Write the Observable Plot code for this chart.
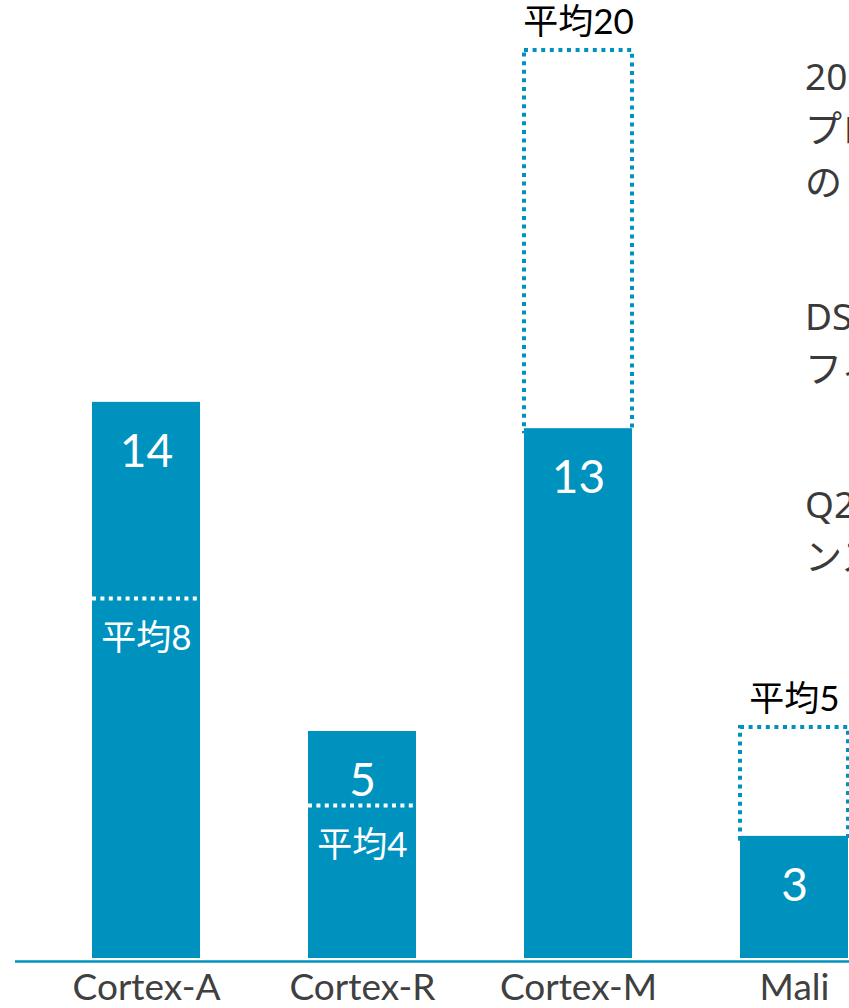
<!DOCTYPE html>
<html>
<head>
<meta charset="utf-8">
<script src="https://cdn.jsdelivr.net/npm/d3@7"></script>
<script src="https://cdn.jsdelivr.net/npm/@observablehq/plot@0.6"></script>
<style>
  html, body { margin: 0; padding: 0; background: #fff; overflow: hidden; }
  #wrap { position: relative; width: 849px; height: 1008px; overflow: hidden; }
  #notes { position: absolute; left: 805px; top: 0; white-space: nowrap;
           font-family: "Noto Sans", "Noto Sans CJK JP", sans-serif; font-size: 37px;
           color: #3a3a3a; line-height: 53px; }
  #notes div { position: absolute; left: 0; }
</style>
</head>
<body>
<div id="wrap">
  <div id="chart"></div>
  <div id="notes"></div>
</div>
<script>
// Categories and values
const categories = ["Cortex-A", "Cortex-R", "Cortex-M", "Mali"];
// drawn bar heights (chart units, average 20 = top of the Cortex-M box)
const barHeights = [12.25, 5.0, 11.67, 2.69];
const barLabels = ["14", "5", "13", "3"];
// drawn average levels and their labels
const avgHeights = [7.93, 3.37, 20, 5.09];
const avgLabels = ["平均8", "平均4", "平均20", "平均5"];
// partially visible side notes (cut off at the right edge)
const noteBlocks = [["20", "プロ", "の"], ["DSP", "フィ"], ["Q2", "ンス"]];

const blue = "#0092be";
const data = categories.map((c, i) => ({
  cat: c, bar: barHeights[i], label: barLabels[i],
  avg: avgHeights[i], avgLabel: avgLabels[i], above: avgHeights[i] > barHeights[i]
}));
const above = data.filter(d => d.above);
const below = data.filter(d => !d.above);

const chart = Plot.plot({
  width: 849,
  height: 1008,
  marginTop: 50,
  marginBottom: 50,
  marginLeft: 15,
  marginRight: 0,
  style: { fontFamily: "Lato, 'Noto Sans CJK JP', sans-serif", fontSize: "37px", color: "#404040", background: "#fff" },
  x: { domain: categories, range: [37, 902], paddingInner: 0.5, paddingOuter: 0.25, tickSize: 0, tickPadding: 15, label: null },
  y: { domain: [0, 20], axis: null },
  marks: [
    Plot.barY(above, { x: "cat", y1: "bar", y2: "avg", fill: "none", stroke: blue, strokeWidth: 4, strokeDasharray: "4,4.6", insetBottom: -3 }),
    Plot.barY(data, { x: "cat", y: "bar", fill: blue }),
    Plot.tickY(below, { x: "cat", y: "avg", stroke: "white", strokeWidth: 4, strokeDasharray: "4,4.4" }),
    Plot.text(data, { x: "cat", y: "bar", text: "label", dy: 50, fill: "white", fontSize: 46 }),
    Plot.text(below, { x: "cat", y: "avg", text: "avgLabel", dy: 40, fill: "white", fontSize: 35, ariaLabel: "avg-label" }),
    Plot.text(above, { x: "cat", y: "avg", text: "avgLabel", dy: -28, fill: "black", fontSize: 35, ariaLabel: "avg-label" }),
    Plot.ruleY([0], { stroke: blue, strokeWidth: 2.5, dy: 3 })
  ]
});
document.getElementById("chart").appendChild(chart);

// bold the kanji part of average labels
chart.querySelectorAll('g[aria-label="avg-label"] text').forEach(function (node) {
  const t = node.textContent;
  const m = t.match(/^(\D+)(\d+)$/);
  if (!m) return;
  const col = node.getAttribute("fill") || node.parentNode.getAttribute("fill") || "black";
  const sel = d3.select(node);
  sel.text(null);
  sel.append("tspan")
    .attr("font-family", "'Noto Sans CJK JP', sans-serif")
    .style("font-weight", "700")
    .attr("stroke", col).attr("stroke-width", 0.7)
    .text(m[1]);
  sel.append("tspan").text(m[2]);
});

// side notes
const notes = document.getElementById("notes");
const blockTops = [49, 289, 477];
noteBlocks.forEach((lines, i) => {
  const div = document.createElement("div");
  div.style.top = blockTops[i] + "px";
  div.innerHTML = lines.map(l => `<span>${l}</span>`).join("<br>");
  notes.appendChild(div);
});
</script>
</body>
</html>
